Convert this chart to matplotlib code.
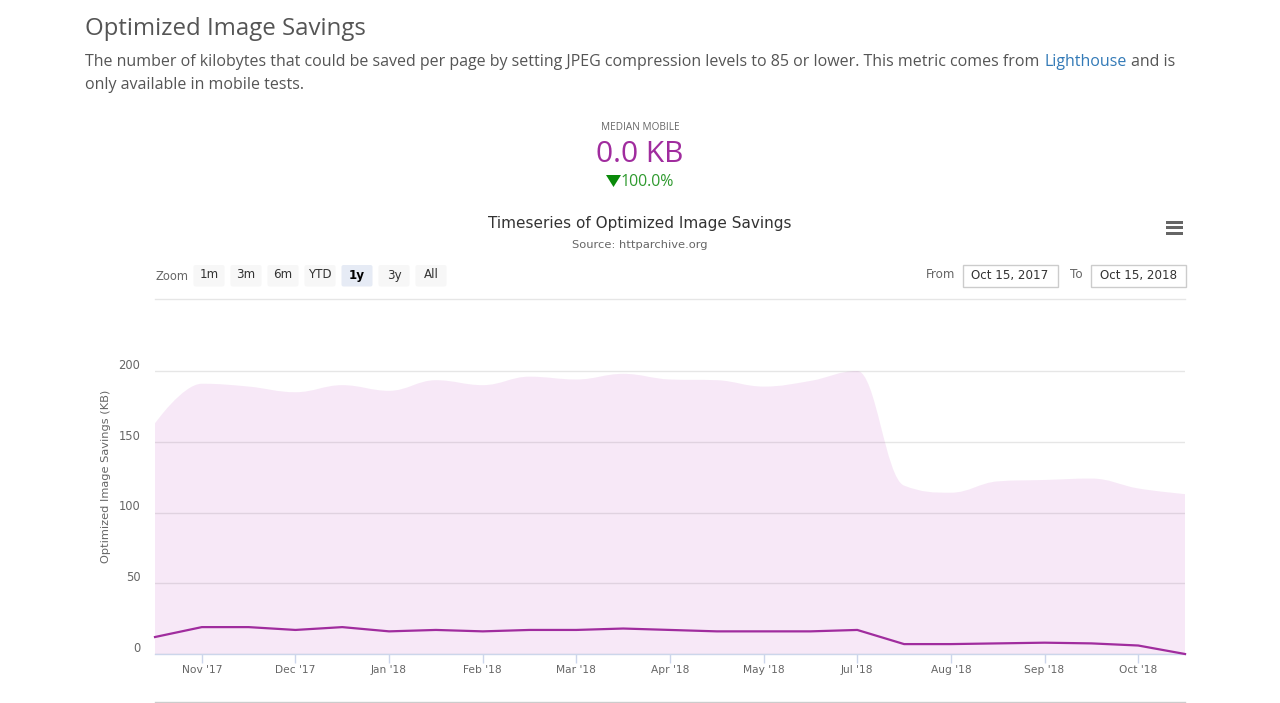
import matplotlib
matplotlib.use("Agg")
import matplotlib.pyplot as plt
import pandas as pd
from matplotlib.patches import PathPatch, Rectangle, FancyBboxPatch, Polygon
from matplotlib.path import Path
from matplotlib.transforms import ScaledTranslation

dates = ["2017-10-15", "2017-11-01", "2017-11-15", "2017-12-01", "2017-12-15", "2018-01-01",
         "2018-01-15", "2018-02-01", "2018-02-15", "2018-03-01", "2018-03-15", "2018-04-01",
         "2018-04-15", "2018-05-01", "2018-05-15", "2018-07-01", "2018-07-15", "2018-08-01",
         "2018-08-15", "2018-09-01", "2018-09-15", "2018-10-01", "2018-10-15"]
p90 = [163, 191, 189, 185, 190, 186, 193.5, 190, 196, 194, 198, 194,
       193.5, 189, 193, 200, 119, 114, 122, 123, 124, 117, 113]
median = [12, 19, 19, 17, 19, 16, 17, 16, 17, 17, 18, 17,
          16, 16, 16, 17, 7, 7, 7.5, 8, 7.5, 6, 0]
y_ticks = [0, 50, 100, 150, 200]
zoom_buttons = ["1m", "3m", "6m", "YTD", "1y", "3y", "All"]

W, H = 1280, 703
PURPLE = "#a02c9e"
UI = "DejaVu Sans"
PAGE = "Open Sans"

fig = plt.figure(figsize=(W / 100, H / 100), dpi=100)

# overlay in pixel coords for the page furniture
page = fig.add_axes([0, 0, 1, 1], zorder=3)
page.set_xlim(0, W)
page.set_ylim(H, 0)
page.axis("off")


def spline_path(xs, ys):
    # same bezier smoothing highcharts uses for its spline series
    verts = [(xs[0], ys[0])]
    codes = [Path.MOVETO]
    prev_right = (xs[0], ys[0])
    for i in range(1, len(xs)):
        x, y = xs[i], ys[i]
        lx, ly = xs[i - 1], ys[i - 1]
        if i < len(xs) - 1:
            nx, ny = xs[i + 1], ys[i + 1]
            left_x = (1.5 * x + lx) / 2.5
            left_y = (1.5 * y + ly) / 2.5
            right_x = (1.5 * x + nx) / 2.5
            right_y = (1.5 * y + ny) / 2.5
            corr = (right_y - left_y) * (right_x - x) / (right_x - left_x) + y - right_y
            left_y += corr
            right_y += corr
            if left_y > ly and left_y > y:
                left_y = max(ly, y)
                right_y = 2 * y - left_y
            elif left_y < ly and left_y < y:
                left_y = min(ly, y)
                right_y = 2 * y - left_y
            if right_y > ny and right_y > y:
                right_y = max(ny, y)
                left_y = 2 * y - right_y
            elif right_y < ny and right_y < y:
                right_y = min(ny, y)
                left_y = 2 * y - right_y
        else:
            left_x, left_y = x, y
            right_x, right_y = x, y
        verts += [prev_right, (left_x, left_y), (x, y)]
        codes += [Path.CURVE4] * 3
        prev_right = (right_x, right_y)
    return verts, codes


# chart axes, y=0 at 654px and 200 at 371px
ax_top, ax_bottom = 300, 654
ax = fig.add_axes([155 / W, 1 - ax_bottom / H, 1030 / W, (ax_bottom - ax_top) / H])
ax.set_xlim(0, len(dates) - 1)
ax.set_ylim(0, (ax_bottom - ax_top) / 1.415)
for s in ["top", "left", "right"]:
    ax.spines[s].set_visible(False)
ax.spines["bottom"].set_color("#ccd6eb")
ax.spines["bottom"].set_linewidth(1)

xs = list(range(len(dates)))
verts, codes = spline_path(xs, p90)
verts += [(xs[-1], 0), (xs[0], 0), (xs[0], p90[0])]
codes += [Path.LINETO, Path.LINETO, Path.CLOSEPOLY]
ax.add_patch(PathPatch(Path(verts, codes), facecolor="#b52cb5", alpha=0.105, edgecolor="none", zorder=2))
ax.plot(xs, median, color=PURPLE, lw=1.6, zorder=3, clip_on=False, solid_joinstyle="round")

ax.set_yticks(y_ticks)
ax.grid(axis="y", color="#e6e6e6", lw=1, zorder=1)
ax.set_axisbelow(True)
ax.tick_params(axis="y", length=0, pad=10.5, labelsize=8.3, labelcolor="#666666")
for t in ax.get_yticklabels():
    t.set_va("bottom")
    t.set_family(UI)
    t.set_transform(t.get_transform() + ScaledTranslation(0, -1 / 100, fig.dpi_scale_trans))

parsed = pd.to_datetime(dates)
tick_idx = [i for i, d in enumerate(parsed) if d.day == 1]
ax.set_xticks(tick_idx)
ax.set_xticklabels([parsed[i].strftime("%b '%y") for i in tick_idx])
ax.tick_params(axis="x", length=6.8, width=1, color="#ccd6eb", pad=0.8, labelsize=7.7, labelcolor="#666666")

ax.set_ylabel("Optimized Image Savings (KB)", fontsize=8.2, color="#666666", family=UI)
ax.yaxis.set_label_coords((111 - 155) / 1030, (654 - 476.5) / (ax_bottom - ax_top))

# page header
page.text(85, 29, "Optimized Image Savings", family=PAGE, fontsize=17.3, color="#555555", va="center")
page.text(85, 62, "The number of kilobytes that could be saved per page by setting JPEG compression levels to 85 or lower. This metric comes from",
          family=PAGE, fontsize=11.5, color="#555555", va="center")
page.text(1044, 62, "Lighthouse", family=PAGE, fontsize=11.5, color="#337ab7", va="center")
page.text(1131, 62, "and is", family=PAGE, fontsize=11.5, color="#555555", va="center")
page.text(85, 85, "only available in mobile tests.", family=PAGE, fontsize=11.5, color="#555555", va="center")

page.text(640, 127, "MEDIAN MOBILE", family=PAGE, fontsize=7.2, color="#666666", ha="center", va="center")
page.text(640, 154, "0.0 KB", family=PAGE, fontsize=21.5, color=PURPLE, ha="center", va="center")
page.add_patch(Polygon([(606, 175), (621, 175), (613.5, 187)], closed=True, facecolor="#0a8a0a", edgecolor="none"))
page.text(621, 182, "100.0%", family=PAGE, fontsize=11.4, color="#2f9a2f", va="center")

# chart title
page.text(640, 223.5, "Timeseries of Optimized Image Savings", family=UI, fontsize=11, color="#333333", ha="center", va="center")
page.text(640, 245.5, "Source: httparchive.org", family=UI, fontsize=8.25, color="#666666", ha="center", va="center")

# hamburger
for y in [222.3, 227.8, 233.2]:
    page.add_patch(Rectangle((1165.5, y - 1.4), 17.5, 2.8, facecolor="#666666", edgecolor="none"))

# range selector
page.text(155, 276, "Zoom", family=UI, fontsize=8.3, color="#666666", va="center")
for i, lab in enumerate(zoom_buttons):
    left = 192.5 + i * 37
    active = lab == "1y"
    page.add_patch(FancyBboxPatch((left + 1, 265), 31, 21.5, boxstyle="round,pad=0,rounding_size=2",
                                  facecolor="#e6ebf5" if active else "#f7f7f7", edgecolor="none"))
    page.text(left + 16.5, 275, lab, family=UI, fontsize=8.6, color="#000000" if active else "#333333",
              ha="center", va="center", fontweight="bold" if active else "normal")

page.text(941, 275, "From", family=UI, fontsize=8.6, color="#666666", ha="center", va="center")
page.text(1076, 275, "To", family=UI, fontsize=8.6, color="#666666", ha="center", va="center")
for left, lab in [(963, "Oct 15, 2017"), (1091, "Oct 15, 2018")]:
    page.add_patch(Rectangle((left, 265), 94.5, 21.5, facecolor="white", edgecolor="#cccccc", lw=1))
    page.text(left + 47, 275, lab, family=UI, fontsize=8.6, color="#333333", ha="center", va="center")

# rules above and below the plot (navigator stripped)
page.plot([155, 1185], [299, 299], color="#e6e6e6", lw=1)
page.plot([155, 1185], [702, 702], color="#cccccc", lw=1)

fig.savefig("out.png", dpi=100)
